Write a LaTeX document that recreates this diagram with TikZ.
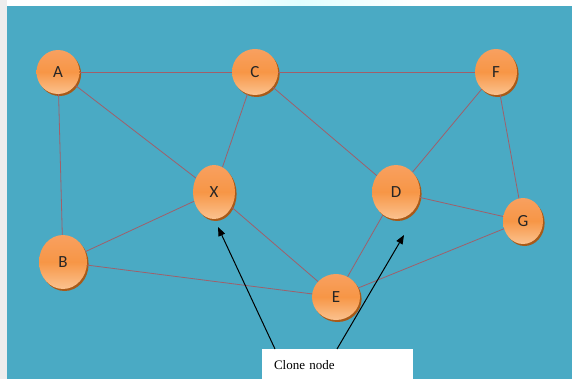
\documentclass[tikz,border=0pt]{standalone}
\usepackage{fontspec}
\setmainfont{Liberation Serif}
\newfontfamily\lblfont{Carlito}
\usetikzlibrary{shapes.geometric,shadows,arrows.meta}
\definecolor{teal}{HTML}{4AAAC4}
\definecolor{ballmid}{HTML}{F79646}
\definecolor{balltop}{HTML}{F8A060}
\definecolor{ballbot}{HTML}{FBC28F}
\definecolor{ballshadow}{HTML}{A85A18}
\definecolor{edgecol}{HTML}{A0606A}
\tikzset{
  ball/.style={ellipse, inner sep=0pt, top color=balltop, bottom color=ballbot, middle color=ballmid,
    draw=none, font=\lblfont\fontsize{17}{19}\selectfont, text=black!85,
    general shadow={fill=ballshadow, shadow xshift=1.6pt, shadow yshift=-2pt}},
  link/.style={draw=edgecol, line width=0.8pt},
  pointer/.style={draw=black, line width=1pt, -{Triangle[length=9pt,width=7pt]}},
  labelbox/.style={rectangle, fill=white, draw=white, minimum width=150pt, minimum height=32pt,
    text width=126pt, align=left, inner xsep=12pt, font=\fontsize{13}{15}\selectfont}
}
\begin{document}
\begin{tikzpicture}[x=1pt,y=-1pt]
\useasboundingbox (0,0) rectangle (572,379);
\begin{scope}
\clip (0,0) rectangle (572,379);
\fill[black!7] (0,0) rectangle (7,379);
\fill[white] (7,0) rectangle (572,6);
\shade[left color=white, right color=cyan!12] (200,0) rectangle (300,6);
\shade[left color=cyan!12, right color=white] (300,0) rectangle (420,6);
\fill[teal] (7,6) rectangle (572,379);

\node[ball, minimum width=43pt, minimum height=44pt] (A) at (58,72) {A};
\node[ball, minimum width=46pt, minimum height=46pt] (C) at (255,72) {C};
\node[ball, minimum width=42pt, minimum height=46pt] (F) at (496,72) {F};
\node[ball, minimum width=42pt, minimum height=54pt] (X) at (214,192) {X};
\node[ball, minimum width=48pt, minimum height=54pt] (D) at (396,192) {D};
\node[ball, minimum width=40pt, minimum height=46pt] (G) at (523,221) {G};
\node[ball, minimum width=48pt, minimum height=54pt] (B) at (63,262) {B};
\node[ball, minimum width=48pt, minimum height=46pt] (E) at (336,297) {E};

\draw[link] (A) -- (C);
\draw[link] (C) -- (F);
\draw[link] (A) -- (B);
\draw[link] (A) -- (X);
\draw[link] (C) -- (X);
\draw[link] (C) -- (D);
\draw[link] (F) -- (D);
\draw[link] (F) -- (G);
\draw[link] (D) -- (G);
\draw[link] (X) -- (B);
\draw[link] (X) -- (E);
\draw[link] (B) -- (E);
\draw[link] (D) -- (E);
\draw[link] (E) -- (G);

\node[labelbox] (clone) at (337,365) {Clone node};
\coordinate (t1) at (275,349);
\coordinate (t2) at (337,349);
\coordinate (h1) at (218,227);
\coordinate (h2) at (404,235);
\draw[pointer] (t1) -- (h1);
\draw[pointer] (t2) -- (h2);
\end{scope}
\end{tikzpicture}
\end{document}
